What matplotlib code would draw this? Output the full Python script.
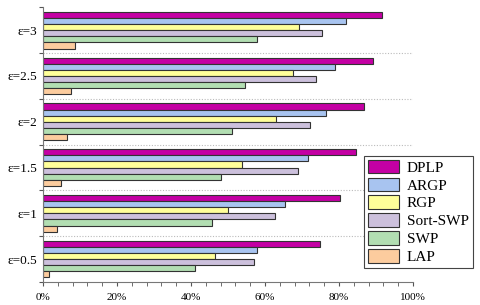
import numpy as np
import matplotlib
matplotlib.use('Agg')
import matplotlib.pyplot as plt
from matplotlib.ticker import MultipleLocator, FuncFormatter

# categories bottom -> top
categories = ['ε=0.5', 'ε=1', 'ε=1.5', 'ε=2', 'ε=2.5', 'ε=3']
methods = ['DPLP', 'ARGP', 'RGP', 'Sort-SWP', 'SWP', 'LAP']
colors = ['#C400A4', '#A8C4F0', '#FFFF99', '#CCC0DC', '#B2DEB2', '#FCCC9E']

DPLP = [74.8, 80.3, 84.5, 86.8, 89.1, 91.6]
ARGP = [57.8, 65.3, 71.5, 76.5, 79.0, 82.0]
RGP = [46.4, 50.0, 53.8, 63.1, 67.7, 69.1]
SORT_SWP = [57.1, 62.6, 68.8, 72.2, 73.7, 75.3]
SWP = [41.0, 45.6, 48.2, 51.0, 54.6, 57.8]
LAP = [1.7, 3.9, 4.9, 6.4, 7.6, 8.7]
series = [DPLP, ARGP, RGP, SORT_SWP, SWP, LAP]

plt.rcParams['font.family'] = ['Liberation Serif', 'DejaVu Serif']

fig = plt.figure(figsize=(4.8, 3.05), dpi=100)
ax = fig.add_axes([0.0896, 0.0754, 0.7708, 0.9006])

y = np.arange(len(categories))
h = 0.8 / len(methods)
for i, (name, vals, c) in enumerate(zip(methods, series, colors)):
    offs = 0.4 - h / 2 - i * h
    ax.barh(y + offs, vals, height=h, color=c, edgecolor='#333333',
            linewidth=0.8, label=name)

ax.set_xlim(0, 100)
ax.set_ylim(-0.5, len(categories) - 0.5)

for b in np.arange(0.5, len(categories) - 0.5, 1):
    ax.axhline(b, color='#bbbbbb', linestyle=(0, (1, 1.5)), linewidth=0.8, zorder=0)

ax.xaxis.set_major_locator(MultipleLocator(20))
ax.xaxis.set_minor_locator(MultipleLocator(4))
ax.xaxis.set_major_formatter(FuncFormatter(lambda v, p: f'{v:.0f}%'))
ax.tick_params(axis='x', which='both', length=3, color='#555555',
               labelsize=8, pad=5)

ax.set_yticks(np.arange(-0.5, len(categories), 1))
ax.set_yticklabels([])
ax.set_yticks(y, minor=True)
ax.set_yticklabels(categories, minor=True, fontsize=9.5)
ax.tick_params(axis='y', which='major', length=3, color='#555555')
ax.tick_params(axis='y', which='minor', length=0, pad=4)

for s in ['top', 'right']:
    ax.spines[s].set_visible(False)
for s in ['left', 'bottom']:
    ax.spines[s].set_color('#777777')

leg = ax.legend(loc='upper left', bbox_to_anchor=(0.868, 0.459), fontsize=11,
                fancybox=False, framealpha=1, edgecolor='#444444',
                handlelength=2.0, handleheight=1.0, borderpad=0.25,
                labelspacing=0.18, handletextpad=0.55, borderaxespad=0)
leg.get_frame().set_linewidth(0.8)

fig.savefig('out.png', dpi=100)
